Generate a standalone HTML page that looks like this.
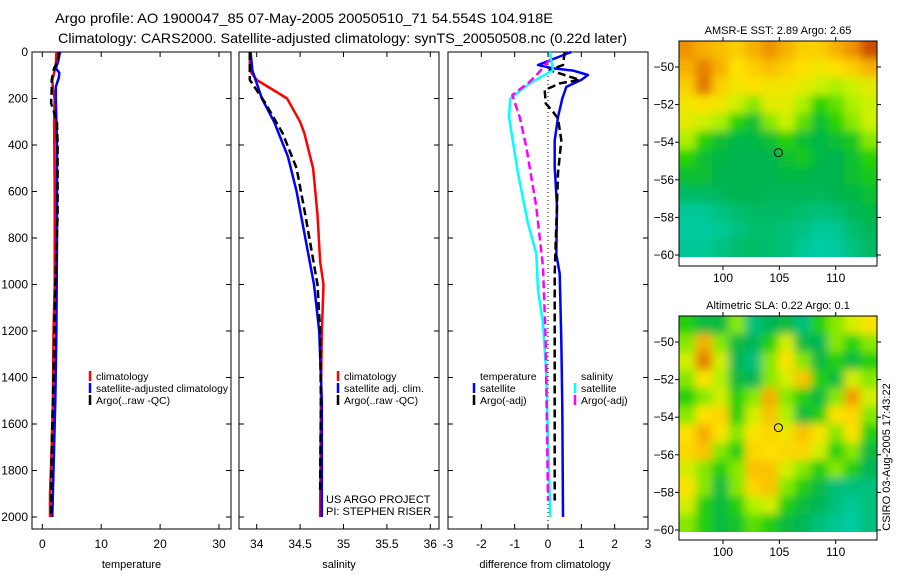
<!DOCTYPE html>
<html><head><meta charset="utf-8">
<style>
html,body{margin:0;padding:0;background:#fff;}
svg{display:block;font-family:"Liberation Sans",sans-serif;}
text{fill:#000;}
</style></head>
<body>
<svg id="chart" width="900" height="580" viewBox="0 0 900 580" xmlns="http://www.w3.org/2000/svg">
<defs>
<filter id="blur" x="0" y="0" width="1" height="1"><feGaussianBlur stdDeviation="4.5"/></filter>
<clipPath id="clipMap1"><rect x="679" y="41" width="198" height="216"/></clipPath>
<clipPath id="clipMap2"><rect x="679" y="316" width="198" height="216"/></clipPath>
</defs>
<text x="55" y="23" font-size="14" textLength="498" lengthAdjust="spacingAndGlyphs">Argo profile: AO 1900047_85 07-May-2005 20050510_71 54.554S 104.918E</text>
<text x="58" y="43" font-size="14" textLength="569" lengthAdjust="spacingAndGlyphs">Climatology: CARS2000. Satellite-adjusted climatology: synTS_20050508.nc (0.22d later)</text>
<g id="g"></g>
</svg>
<script>
// ---------- data ----------
const depthTicks = [0,200,400,600,800,1000,1200,1400,1600,1800,2000];
const tempTicks = [0,10,20,30];
const salTicks = [34,34.5,35,35.5,36];
const salTickLabels = ["34","34.5","35","35.5","36"];
const diffTicks = [-3,-2,-1,0,1,2,3];

const tClimDepth = [0,60,90,120,160,200,300,600,1000,1200,1500,1700,1900,2000];
const tClimVal   = [2.4,2.3,2.0,1.7,1.8,2.1,2.0,2.1,2.1,1.9,1.8,1.6,1.3,1.3];
const tSatDepth = [0,40,70,90,110,150,200,400,800,1200,1500,1700,2000];
const tSatVal   = [3.0,2.7,2.3,2.9,2.8,2.3,2.3,2.5,2.5,2.4,2.2,2.0,1.7];
const tArgoDepth = [0,40,70,120,160,220,260,300,400,700,1000,1400,1700,2000];
const tArgoVal   = [2.8,2.6,2.0,1.6,1.6,1.5,2.0,2.5,2.6,2.6,2.2,1.9,1.6,1.5];

const sClimDepth = [0,80,120,170,200,300,350,500,700,900,1000,1100,1200,1500,2000];
const sClimVal   = [33.92,33.92,34.0,34.22,34.35,34.5,34.55,34.65,34.7,34.73,34.77,34.76,34.75,34.74,34.73];
const sSatDepth = [0,80,200,300,450,600,800,1000,1200,1500,2000];
const sSatVal   = [33.93,33.95,34.06,34.2,34.36,34.46,34.56,34.66,34.72,34.75,34.75];
const sArgoDepth = [0,120,220,350,500,700,850,1000,1200,1500,1900];
const sArgoVal   = [33.92,33.92,34.1,34.3,34.46,34.56,34.63,34.7,34.73,34.74,34.73];

const dTSatDepth = [0,56,70,80,99,120,150,200,280,380,495,666,870,953,1240,1527,2000];
const dTSatVal   = [0.7,-0.3,0.15,0.75,1.2,1.0,0.55,0.43,0.3,0.2,0.2,0.27,0.25,0.35,0.4,0.43,0.45];
const dTArgoDepth = [0,56,78,120,135,164,221,257,286,379,522,953,1383,1929];
const dTArgoVal   = [0.5,0.45,0.05,0.95,0.35,-0.1,-0.07,0.15,0.3,0.4,0.3,0.2,0.2,0.2];
const dSSatDepth = [0,78,135,200,280,522,738,867,1025,1168,1383,1670,2000];
const dSSatVal   = [0.05,0.15,-0.55,-1.13,-1.17,-0.9,-0.6,-0.35,-0.3,-0.15,-0.05,0,0.07];
const dSArgoDepth = [34,92,128,185,280,408,666,924,1240,1929];
const dSArgoVal   = [0.05,-0.3,-0.55,-1.07,-0.85,-0.65,-0.35,-0.15,-0.07,0];

const latTicks = [-50,-52,-54,-56,-58,-60];
const lonTicks = [100,105,110];
const argoLon = 104.918, argoLat = -54.554;
const sstGrid = [
[.85,.8,.78,.75,.8,.85,.8,.75,.75,.8,.85,.95],
[.8,.88,.8,.72,.75,.78,.75,.72,.7,.72,.75,.8],
[.75,.9,.75,.7,.72,.7,.7,.68,.65,.62,.65,.68],
[.7,.72,.7,.65,.6,.68,.68,.62,.55,.58,.62,.65],
[.68,.65,.62,.55,.5,.6,.65,.58,.5,.55,.6,.65],
[.62,.55,.5,.48,.48,.5,.55,.5,.48,.5,.52,.6],
[.55,.5,.48,.47,.47,.47,.5,.52,.48,.47,.5,.55],
[.5,.5,.47,.47,.47,.47,.48,.48,.47,.47,.5,.52],
[.45,.45,.46,.47,.47,.46,.46,.46,.46,.47,.48,.5],
[.4,.4,.42,.44,.45,.45,.45,.44,.43,.44,.46,.48],
[.38,.38,.4,.42,.44,.44,.43,.42,.38,.4,.44,.46],
[.4,.4,.42,.44,.45,.44,.43,.4,.37,.38,.42,.45]];
const slaGrid = [
[.55,.5,.5,.6,.45,.48,.5,.45,.55,.6,.65,.7],
[.6,.78,.6,.5,.48,.55,.65,.5,.48,.6,.55,.6],
[.65,.85,.65,.48,.45,.6,.7,.6,.5,.55,.5,.55],
[.6,.7,.62,.5,.48,.6,.65,.75,.55,.5,.65,.6],
[.55,.6,.65,.55,.6,.78,.6,.55,.5,.6,.8,.65],
[.6,.7,.72,.55,.65,.75,.62,.5,.55,.7,.72,.6],
[.7,.78,.7,.6,.7,.72,.68,.75,.7,.6,.7,.55],
[.72,.75,.6,.55,.72,.7,.72,.72,.65,.55,.6,.5],
[.65,.6,.55,.6,.75,.75,.65,.6,.55,.6,.55,.48],
[.7,.6,.5,.6,.72,.75,.6,.55,.5,.45,.45,.45],
[.65,.55,.5,.55,.62,.65,.55,.5,.48,.45,.42,.45],
[.6,.55,.5,.52,.58,.55,.5,.48,.45,.43,.4,.45]];

// ---------- helpers ----------
const NS = "http://www.w3.org/2000/svg";
const root = document.getElementById('g');
function mk(tag, attrs, parent){const e=document.createElementNS(NS,tag);for(const k in attrs)e.setAttribute(k,attrs[k]);(parent||root).appendChild(e);return e;}
function txt(x,y,s,size,anchor,parent){const t=mk('text',{x:x,y:y,'font-size':size,'text-anchor':anchor||'start'},parent);t.textContent=s;return t;}

const yTop=52, yBot=529;
const yD = d => 52 + d*0.2325;

const panels = [
 {name:'temperature', x0:32, x1:231, sx:v=>42.3+v*5.89, ticks:tempTicks, labels:tempTicks.map(String), label:'temperature'},
 {name:'salinity', x0:239, x1:439, sx:v=>256.7+(v-34)*86.8, ticks:salTicks, labels:salTickLabels, label:'salinity'},
 {name:'difference', x0:448, x1:648, sx:v=>548+v*33.33, ticks:diffTicks, labels:diffTicks.map(String), label:'difference from climatology'}
];

panels.forEach((p,i)=>{
  const g=mk('g',{});
  
  
  const fr=mk('rect',{x:p.x0,y:yTop,width:p.x1-p.x0,height:yBot-yTop,fill:'none',stroke:'#000','stroke-width':1},g);
  
  
  depthTicks.forEach(d=>{
    const y=yD(d);
    mk('line',{x1:p.x0,y1:y,x2:p.x0+5,y2:y,stroke:'#000'},g);
    mk('line',{x1:p.x1,y1:y,x2:p.x1-5,y2:y,stroke:'#000'},g);
  });
  p.ticks.forEach((v,k)=>{
    const x=p.sx(v);
    mk('line',{x1:x,y1:yTop,x2:x,y2:yTop+5,stroke:'#000'},g);
    mk('line',{x1:x,y1:yBot,x2:x,y2:yBot-5,stroke:'#000'},g);
    const t=txt(x,548,p.labels[k],12,'middle',g);
    
    
  });
  const xl=txt((p.x0+p.x1)/2+ (i==2?-3:0),568,p.label,11,'middle',g);
  
  
});
depthTicks.forEach(d=>{
  const t=txt(28,yD(d)+4,String(d),12,'end');
  
  
});

function series(p, depths, vals, color, dash, width, name){
  const pts=depths.map((d,i)=>p.sx(vals[i]).toFixed(1)+','+yD(d).toFixed(1)).join(' ');
  const a={points:pts,fill:'none',stroke:color,'stroke-width':width,'stroke-linejoin':'round'};
  if(dash)a['stroke-dasharray']=dash;
  const l=mk('polyline',a);
  
  
}
const P=panels;
series(P[0],tClimDepth,tClimVal,'#ff0000',null,2.5,'temp-climatology-line');
series(P[0],tSatDepth,tSatVal,'#0000ff',null,2.5,'temp-satellite-line');
series(P[0],tArgoDepth,tArgoVal,'#000000','8 4',2.5,'temp-argo-line');
series(P[1],sClimDepth,sClimVal,'#ff0000',null,2.5,'sal-climatology-line');
series(P[1],sSatDepth,sSatVal,'#0000ff',null,2.5,'sal-satellite-line');
series(P[1],sArgoDepth,sArgoVal,'#000000','8 4',2.5,'sal-argo-line');
const zl=mk('line',{x1:548,y1:yTop,x2:548,y2:yBot,stroke:'#000','stroke-dasharray':'1 3'});


series(P[2],dTSatDepth,dTSatVal,'#0000ff',null,2.5,'diff-temp-satellite-line');
series(P[2],dTArgoDepth,dTArgoVal,'#000000','8 4',2.5,'diff-temp-argo-line');
series(P[2],dSSatDepth,dSSatVal,'#00ffff',null,2.5,'diff-sal-satellite-line');
series(P[2],dSArgoDepth,dSArgoVal,'#ff00ff','8 4',2.5,'diff-sal-argo-line');

function legend(x,y,entries,name){
  const g=mk('g',{});
  
  
  entries.forEach((e,i)=>{
    const yy=y+i*12;
    if(e[1]) mk('line',{x1:x,y1:yy-9,x2:x,y2:yy+1,stroke:e[1],'stroke-width':2.5},g);
    const t=txt(x+6,yy,e[0],10.5,'start',g);
    if(e[0].length>25){ t.setAttribute('textLength','132'); t.setAttribute('lengthAdjust','spacingAndGlyphs'); }
  });
}
legend(90,380,[['climatology','#ff0000'],['satellite-adjusted climatology','#0000ff'],['Argo(..raw -QC)','#000']],'temperature-legend');
legend(338,380,[['climatology','#ff0000'],['satellite adj. clim.','#0000ff'],['Argo(..raw -QC)','#000']],'salinity-legend');
legend(474,380,[['temperature',null],['satellite','#0000ff'],['Argo(-adj)','#000']],'diff-temperature-legend');
legend(575,380,[['salinity',null],['satellite','#00ffff'],['Argo(-adj)','#ff00ff']],'diff-salinity-legend');
const c1=txt(326,503,'US ARGO PROJECT',11);  
const c2=txt(326,515,'PI: STEPHEN RISER',11);  

const stops=[[0.3,[0,210,190]],[0.4,[0,200,150]],[0.47,[0,180,80]],[0.55,[40,210,0]],[0.63,[190,245,0]],[0.72,[255,225,0]],[0.82,[245,165,0]],[0.92,[220,105,0]],[1.0,[180,30,0]]];
function cmap(v){
  if(v<=stops[0][0])return stops[0][1];
  for(let i=1;i<stops.length;i++){ if(v<=stops[i][0]){const a=stops[i-1],b=stops[i],t=(v-a[0])/(b[0]-a[0]);return a[1].map((c,k)=>Math.round(c+(b[1][k]-c)*t));}}
  return stops[stops.length-1][1];
}
function mapPanel(grid, top, frameBottom, title, name, latRef, contrast){
  const L=679,R=877,imgTop=top,imgBot=top+216;
  const g=mk('g',{});
  
  
  const inner=mk('g',{'clip-path':'url(#clip'+(name==='sst-map'?'Map1':'Map2')+')'},g);
  const bg=mk('g',{filter:'url(#blur)'},inner);
  const rows=grid.length, cols=grid[0].length;
  const cw=(R-L)/cols, ch=(imgBot-imgTop)/rows;
  for(let r=-1;r<=rows;r++)for(let c=-1;c<=cols;c++){
    const rr=Math.min(rows-1,Math.max(0,r)), cc=Math.min(cols-1,Math.max(0,c));
    const v=0.6+(grid[rr][cc]-0.6)*contrast;
    const col=cmap(v);
    const cell=mk('rect',{x:L+c*cw,y:imgTop+r*ch,width:cw+0.5,height:ch+0.5,fill:'rgb('+col.join(',')+')'},bg);
    
    
  }
  mk('rect',{x:L,y:top,width:R-L,height:frameBottom-top,fill:'none',stroke:'#000'},g);
  const lonX=v=>723+(v-100)*11.27;
  const latY=v=>latRef+(-50-v)*18.8;
  latTicks.forEach(v=>{
    const y=latY(v);
    mk('line',{x1:L,y1:y,x2:L-4,y2:y,stroke:'#000'},g);
    mk('line',{x1:R,y1:y,x2:R+4,y2:y,stroke:'#000'},g);
    const t=txt(L-5,y+4,String(v).replace('-','\u2212'),12,'end',g);
    
    
  });
  lonTicks.forEach(v=>{
    const x=lonX(v);
    mk('line',{x1:x,y1:top,x2:x,y2:top-4,stroke:'#000'},g);
    mk('line',{x1:x,y1:frameBottom,x2:x,y2:frameBottom+4,stroke:'#000'},g);
    const t=txt(x,frameBottom+16,String(v),12,'middle',g);
    
    
  });
  const m=mk('circle',{cx:lonX(argoLon),cy:latY(argoLat),r:4,fill:'none',stroke:'#000'},g);
  
  
  const tt=txt(778,top-7,title,11,'middle',g);
  
  
}
mapPanel(sstGrid,41,266,'AMSR-E SST: 2.89 Argo: 2.65','sst-map',67,1.0);
mapPanel(slaGrid,316,540,'Altimetric SLA: 0.22 Argo: 0.1','sla-map',342,1.15);
const st=txt(0,0,'CSIRO 03-Aug-2005 17:43:22',11,'middle');
st.setAttribute('transform','translate(890,457) rotate(-90)');


</script>
</body></html>
